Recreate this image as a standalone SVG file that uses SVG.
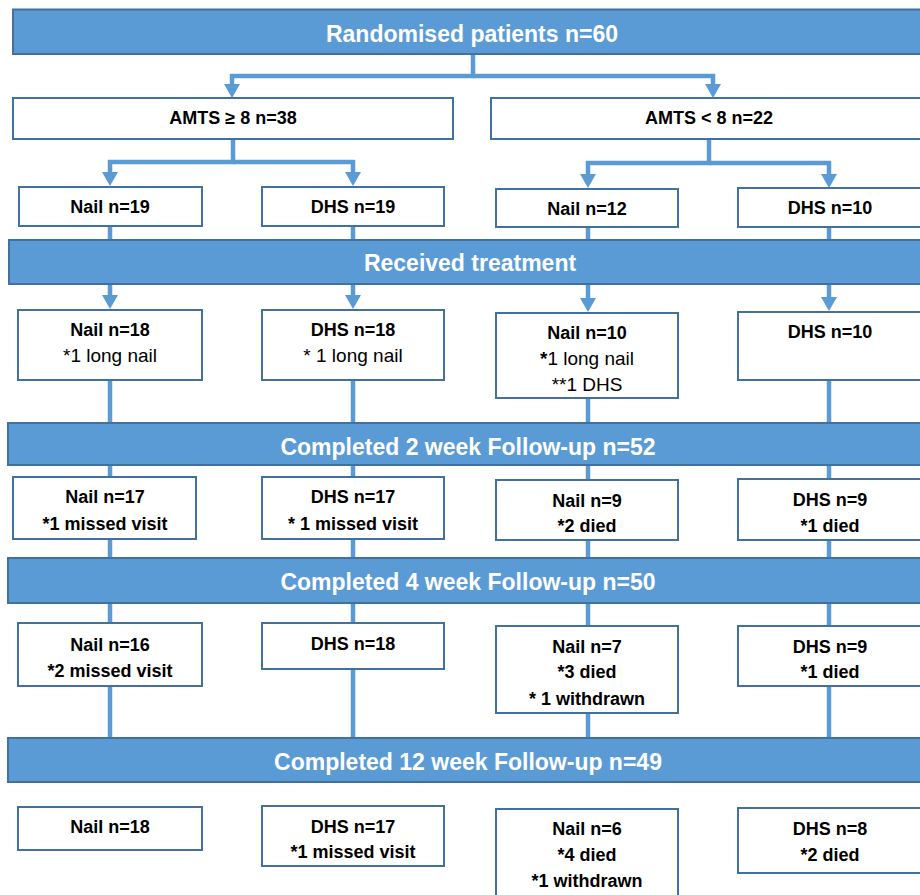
<svg xmlns="http://www.w3.org/2000/svg" width="920" height="895" viewBox="0 0 920 895">
<style>
.banner{fill:#5B9BD5;stroke:#41719C;stroke-width:2}
.box{fill:#fff;stroke:#41719C;stroke-width:2}
.bt{font-family:"Liberation Sans",Arial,sans-serif;font-weight:bold;font-size:23px;fill:#fff;text-anchor:middle}
.t{font-family:"Liberation Sans",Arial,sans-serif;font-weight:bold;font-size:18px;fill:#000;text-anchor:middle}
.r{font-weight:normal;font-size:19px}
.c{fill:none;stroke:#5B9BD5;stroke-width:4.5}
</style>
<defs>
<marker id="ah" markerUnits="userSpaceOnUse" viewBox="0 0 14 16" refX="0" refY="8" markerWidth="14" markerHeight="16" orient="auto">
<path d="M0,0 L14,8 L0,16 z" fill="#5B9BD5"/>
</marker>
</defs>
<g id="connectors">
<path class="c" d="M473,55 V76 H232 V84" marker-end="url(#ah)"/>
<path class="c" d="M473,76 H713 V84" marker-end="url(#ah)"/>
<path class="c" d="M233,140 V162 H110 V172" marker-end="url(#ah)"/>
<path class="c" d="M233,162 H353 V172" marker-end="url(#ah)"/>
<path class="c" d="M709,140 V163 H588 V174" marker-end="url(#ah)"/>
<path class="c" d="M709,163 H829 V174" marker-end="url(#ah)"/>
<path class="c" d="M110,226 V295" marker-end="url(#ah)"/>
<path class="c" d="M353,226 V295" marker-end="url(#ah)"/>
<path class="c" d="M588,227 V298" marker-end="url(#ah)"/>
<path class="c" d="M829,227 V297" marker-end="url(#ah)"/>
<path class="c" d="M110,380 V477 M110,539 V623 M110,686 V738"/>
<path class="c" d="M353,380 V477 M353,539 V623 M353,669 V738"/>
<path class="c" d="M588,398 V480 M588,540 V626 M588,713 V738"/>
<path class="c" d="M829,380 V480 M829,540 V625 M829,686 V738"/>
</g>
<g id="randomised"><rect class="banner" x="13" y="9.5" width="922" height="44.5"/><text class="bt" x="472" y="42">Randomised patients n=60</text></g>
<g id="amts-high"><rect class="box" x="13" y="98" width="440" height="41"/><text class="t" x="233" y="124">AMTS ≥ 8 n=38</text></g>
<g id="amts-low"><rect class="box" x="491" y="98" width="436" height="41"/><text class="t" x="709" y="124">AMTS &lt; 8 n=22</text></g>
<g id="nail19"><rect class="box" x="19" y="187" width="183" height="39"/><text class="t" x="110" y="213">Nail n=19</text></g>
<g id="dhs19"><rect class="box" x="262" y="187" width="182" height="39"/><text class="t" x="353" y="213">DHS n=19</text></g>
<g id="nail12"><rect class="box" x="496" y="189" width="182" height="38"/><text class="t" x="587" y="215">Nail n=12</text></g>
<g id="dhs10a"><rect class="box" x="738" y="188" width="184" height="39"/><text class="t" x="830" y="214">DHS n=10</text></g>
<g id="received"><rect class="banner" x="9" y="240" width="926" height="44"/><text class="bt" x="470" y="271">Received treatment</text></g>
<g id="nail18a"><rect class="box" x="18" y="310" width="184" height="70"/><text class="t" x="110" y="336">Nail n=18</text><text class="t r" x="110" y="362">*1 long nail</text></g>
<g id="dhs18a"><rect class="box" x="262" y="310" width="182" height="70"/><text class="t" x="353" y="336">DHS n=18</text><text class="t r" x="353" y="362">* 1 long nail</text></g>
<g id="nail10"><rect class="box" x="496" y="313" width="182" height="85"/><text class="t" x="587" y="339">Nail n=10</text><text class="t r" x="587" y="365"><tspan font-weight="bold">*</tspan>1 long nail</text><text class="t r" x="587" y="391">**1 DHS</text></g>
<g id="dhs10b"><rect class="box" x="738" y="312" width="184" height="68"/><text class="t" x="830" y="338">DHS n=10</text></g>
<g id="week2"><rect class="banner" x="8" y="423" width="927" height="42"/><text class="bt" x="468" y="455">Completed 2 week Follow-up n=52</text></g>
<g id="nail17"><rect class="box" x="13" y="477" width="183" height="62"/><text class="t" x="105" y="503">Nail n=17</text><text class="t" x="105" y="530">*1 missed visit</text></g>
<g id="dhs17a"><rect class="box" x="262" y="477" width="182" height="62"/><text class="t" x="353" y="503">DHS n=17</text><text class="t" x="353" y="530">* 1 missed visit</text></g>
<g id="nail9"><rect class="box" x="496" y="480" width="182" height="60"/><text class="t" x="587" y="507">Nail n=9</text><text class="t" x="587" y="532">*2 died</text></g>
<g id="dhs9a"><rect class="box" x="738" y="479" width="184" height="61"/><text class="t" x="830" y="506">DHS n=9</text><text class="t" x="830" y="532">*1 died</text></g>
<g id="week4"><rect class="banner" x="8" y="558" width="927" height="45"/><text class="bt" x="468" y="590">Completed 4 week Follow-up n=50</text></g>
<g id="nail16"><rect class="box" x="18" y="623" width="184" height="63"/><text class="t" x="110" y="651">Nail n=16</text><text class="t" x="110" y="677">*2 missed visit</text></g>
<g id="dhs18b"><rect class="box" x="262" y="623" width="182" height="46"/><text class="t" x="353" y="650">DHS n=18</text></g>
<g id="nail7"><rect class="box" x="496" y="626" width="182" height="87"/><text class="t" x="587" y="653">Nail n=7</text><text class="t" x="587" y="678">*3 died</text><text class="t" x="587" y="705">* 1 withdrawn</text></g>
<g id="dhs9b"><rect class="box" x="738" y="626" width="184" height="60"/><text class="t" x="830" y="653">DHS n=9</text><text class="t" x="830" y="678">*1 died</text></g>
<g id="week12"><rect class="banner" x="8" y="738" width="927" height="44"/><text class="bt" x="468" y="770">Completed 12 week Follow-up n=49</text></g>
<g id="nail18b"><rect class="box" x="18" y="807" width="184" height="43"/><text class="t" x="110" y="833">Nail n=18</text></g>
<g id="dhs17b"><rect class="box" x="262" y="806" width="182" height="60"/><text class="t" x="353" y="833">DHS n=17</text><text class="t" x="353" y="858">*1 missed visit</text></g>
<g id="nail6"><rect class="box" x="496" y="809" width="182" height="96"/><text class="t" x="587" y="835">Nail n=6</text><text class="t" x="587" y="861">*4 died</text><text class="t" x="587" y="887">*1 withdrawn</text></g>
<g id="dhs8"><rect class="box" x="738" y="808" width="184" height="65"/><text class="t" x="830" y="835">DHS n=8</text><text class="t" x="830" y="861">*2 died</text></g>
</svg>
